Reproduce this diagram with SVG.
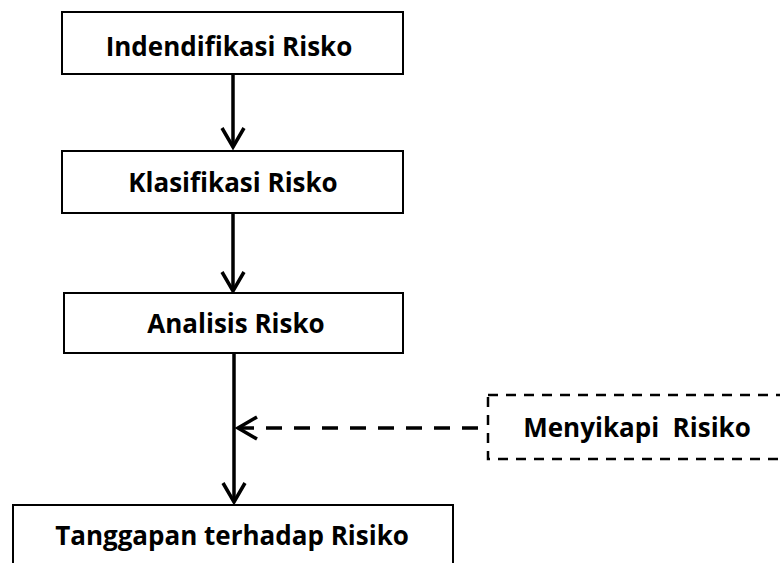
<svg xmlns="http://www.w3.org/2000/svg" width="780" height="563" viewBox="0 0 780 563">
<style>
.box{fill:#fff;stroke:#000;stroke-width:2}
.dbox{fill:#fff;stroke:#000;stroke-width:2.5;stroke-dasharray:10 8}
.lbl{font-family:"Open Sans","Liberation Sans",sans-serif;font-weight:bold;font-size:26px;fill:#000;text-anchor:middle}
.con{stroke:#000;stroke-width:3.5;fill:none}
.dash{stroke-dasharray:16 12}
</style>
<defs>
<marker id="ah" markerUnits="userSpaceOnUse" markerWidth="30" markerHeight="30" viewBox="-25 -15 30 30" refX="0" refY="0" orient="auto">
<path d="M-19,-11 L0,0 L-19,11" fill="none" stroke="#000" stroke-width="3.5"/>
</marker>
</defs>
<rect width="780" height="563" fill="#fff"/>
<g id="connectors">
<line class="con" x1="233" y1="74" x2="233" y2="147" marker-end="url(#ah)"/>
<line class="con" x1="233" y1="213" x2="233" y2="291" marker-end="url(#ah)"/>
<line class="con" x1="234" y1="353" x2="234" y2="502" marker-end="url(#ah)"/>
<line class="con dash" x1="478" y1="428" x2="238" y2="428" marker-end="url(#ah)"/>
</g>
<g id="node-identifikasi">
<rect class="box" x="62" y="12" width="341" height="62"/>
<text class="lbl" x="229" y="56">Indendifikasi Risko</text>
</g>
<g id="node-klasifikasi">
<rect class="box" x="62" y="151" width="341" height="62"/>
<text class="lbl" x="233" y="192">Klasifikasi Risko</text>
</g>
<g id="node-analisis">
<rect class="box" x="64" y="293" width="339" height="60"/>
<text class="lbl" x="236" y="333">Analisis Risko</text>
</g>
<g id="node-menyikapi">
<rect class="dbox" x="488" y="395" width="320" height="64"/>
<text class="lbl" x="637" y="437" xml:space="preserve">Menyikapi  Risiko</text>
</g>
<g id="node-tanggapan">
<rect class="box" x="13" y="505" width="440" height="80"/>
<text class="lbl" x="232" y="545">Tanggapan terhadap Risiko</text>
</g>
</svg>
